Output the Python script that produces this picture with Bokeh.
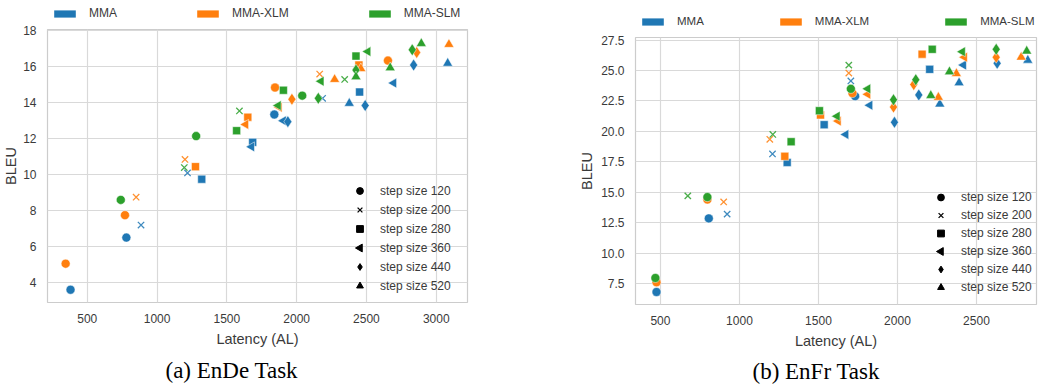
import math
from bokeh.plotting import figure
from bokeh.models import (Range1d, FixedTicker, Legend, LegendItem, Title,
                          PrintfTickFormatter)
from bokeh.layouts import row, column
from bokeh.embed import file_html
from bokeh.resources import INLINE

# ---------------- data ----------------
models = ["MMA", "MMA-XLM", "MMA-SLM"]
model_colors = ["#1f77b4", "#ff7f0e", "#2ca02c"]
step_sizes = [120, 200, 280, 360, 440, 520]
step_labels = ["step size 120", "step size 200", "step size 280",
               "step size 360", "step size 440", "step size 520"]

# EnDe task
ende_mma_latency = [380, 780, 1840, 885, 1218, 2186, 1320, 1685, 2451, 1677, 1905, 2695, 1937, 2491, 2838, 2377, 3082]
ende_mma_bleu = [3.6, 6.5, 13.35, 7.2, 10.1, 14.25, 9.75, 11.8, 14.6, 11.55, 13.0, 15.1, 12.95, 13.85, 16.1, 13.97, 16.2]
ende_mma_step = [120, 120, 120, 200, 200, 200, 280, 280, 280, 360, 360, 360, 440, 440, 440, 520, 520]
ende_xlm_latency = [345, 770, 1845, 2654, 850, 1200, 2165, 1275, 1650, 2446, 1635, 1875, 1966, 2860, 2272, 2460, 3091]
ende_xlm_bleu = [5.05, 7.75, 14.85, 16.35, 8.75, 10.85, 15.6, 10.45, 13.2, 16.1, 12.8, 13.75, 14.2, 16.8, 15.3, 15.9, 17.25]
ende_xlm_step = [120, 120, 120, 120, 200, 200, 200, 280, 280, 280, 360, 360, 440, 440, 520, 520, 520]
ende_slm_latency = [740, 1280, 2040, 1195, 1590, 2344, 1570, 1905, 2425, 1868, 2175, 2510, 2155, 2425, 2828, 2425, 2670, 2893]
ende_slm_bleu = [8.6, 12.15, 14.4, 10.4, 13.55, 15.3, 12.45, 14.7, 16.6, 13.85, 15.2, 16.85, 14.25, 15.82, 16.95, 15.45, 15.95, 17.3]
ende_slm_step = [120, 120, 120, 200, 200, 200, 280, 280, 280, 360, 360, 360, 440, 440, 440, 520, 520, 520]

# EnFr task
enfr_mma_latency = [475, 806, 1732, 922, 1209, 1705, 1302, 1536, 2204, 1673, 1825, 2418, 1981, 2135, 2631, 2268, 2390, 2825]
enfr_mma_bleu = [6.8, 12.85, 22.9, 13.2, 18.15, 24.15, 17.45, 20.55, 25.1, 19.75, 22.15, 25.45, 20.75, 23.0, 25.6, 22.25, 24.0, 25.85]
enfr_xlm_latency = [475, 797, 1715, 900, 1192, 1692, 1287, 1513, 2156, 1625, 1812, 2424, 1975, 2103, 2625, 2259, 2373, 2783]
enfr_xlm_bleu = [7.6, 14.4, 23.15, 14.2, 19.35, 24.8, 17.95, 21.35, 26.35, 20.85, 23.05, 26.1, 22.0, 23.85, 26.1, 22.8, 24.75, 26.1]
enfr_slm_latency = [468, 797, 1705, 673, 1211, 1692, 1327, 1506, 2220, 1618, 1812, 2411, 1975, 2116, 2625, 2211, 2329, 2818]
enfr_slm_bleu = [7.95, 14.6, 23.5, 14.7, 19.75, 25.45, 19.15, 21.7, 26.75, 21.25, 23.5, 26.55, 22.6, 24.25, 26.75, 22.95, 24.9, 26.6]
enfr_step = [120, 120, 120, 200, 200, 200, 280, 280, 280, 360, 360, 360, 440, 440, 440, 520, 520, 520]

ende_x_ticks = [500, 1000, 1500, 2000, 2500, 3000]
ende_y_ticks = [4, 6, 8, 10, 12, 14, 16, 18]
enfr_x_ticks = [500, 1000, 1500, 2000, 2500]
enfr_y_ticks = [7.5, 10.0, 12.5, 15.0, 17.5, 20.0, 22.5, 25.0, 27.5]

# ---------------- styling ----------------
FONT = "Liberation Sans"
TEXT = "#3a3a3a"
GRID = "#d9d9d9"
NAN = float("nan")
MARKERS = {120: ("circle", 0.0, 9), 200: ("x", 0.0, 9), 280: ("square", 0.0, 8),
           360: ("triangle", math.pi / 2, 10), 440: ("diamond", 0.0, 12),
           520: ("triangle", 0.0, 10)}
LEG_GW = 17


def make_legend_fig(g):
    """Strip above a panel that holds the model colour legend."""
    f = figure(output_backend="svg", toolbar_location=None, width=g["w"],
               height=g["strip_h"], x_axis_location=None, y_axis_location=None,
               min_border=0, min_border_left=0, min_border_right=0,
               min_border_top=0, min_border_bottom=0)
    f.outline_line_color = None
    f.grid.visible = False
    items = []
    for m, c in zip(models, model_colors):
        r = f.quad(left=[NAN], right=[NAN], top=[NAN], bottom=[NAN],
                   fill_color=c, line_color=None)
        items.append(LegendItem(label=m, renderers=[r]))
    leg = Legend(items=items, orientation="horizontal", location=(4, 0),
                 glyph_width=27, glyph_height=9, label_height=9, label_standoff=11,
                 spacing=g["leg_spacing"], padding=0, margin=0,
                 border_line_color=None, background_fill_alpha=0,
                 label_text_font=FONT, label_text_font_size=g["leg_font"],
                 label_text_color=TEXT)
    f.add_layout(leg)
    return f


def make_plot(series, xr, yr, xt, yt, yfmt, g, caption):
    p = figure(output_backend="svg", toolbar_location=None,
               x_range=Range1d(*xr), y_range=Range1d(*yr),
               width=g["w"], height=g["h"],
               min_border_left=g["bl"], min_border_right=g["br"],
               min_border_top=g["bt"], min_border_bottom=g["bb"])
    p.extra_x_ranges = {"px": Range1d(0, g["fw"])}
    p.extra_y_ranges = {"px": Range1d(0, g["fh"])}
    p.outline_line_color = "#cccccc"
    p.outline_line_width = 1.2
    p.xgrid.grid_line_color = GRID
    p.ygrid.grid_line_color = GRID
    p.xgrid.grid_line_width = 1.2
    p.ygrid.grid_line_width = 1.2
    p.xaxis.ticker = FixedTicker(ticks=xt)
    p.yaxis.ticker = FixedTicker(ticks=yt)
    if yfmt:
        p.yaxis.formatter = PrintfTickFormatter(format=yfmt)
    for ax in (p.xaxis[0], p.yaxis[0]):
        ax.axis_line_color = None
        ax.major_tick_line_color = None
        ax.minor_tick_line_color = None
        ax.major_label_text_font = FONT
        ax.major_label_text_font_size = "12px"
        ax.major_label_text_color = TEXT
        ax.axis_label_text_font = FONT
        ax.axis_label_text_font_size = "14.5px"
        ax.axis_label_text_font_style = "normal"
        ax.axis_label_text_color = TEXT
        ax.major_label_standoff = 5
    p.xaxis.axis_label = "Latency (AL)"
    p.yaxis.axis_label = "BLEU"
    p.xaxis.axis_label_standoff = 5
    p.yaxis.axis_label_standoff = g["ylab_standoff"]

    # data markers, drawn model by model
    for (lat, bleu, steps), color in zip(series, model_colors):
        for s in step_sizes:
            xs = [x for x, st in zip(lat, steps) if st == s]
            ys = [y for y, st in zip(bleu, steps) if st == s]
            mk, ang, sz = MARKERS[s]
            if mk == "x":
                p.scatter(xs, ys, marker="x", size=sz, line_color=color,
                          line_width=1.3, line_alpha=0.85)
            else:
                p.scatter(xs, ys, marker=mk, angle=ang, size=sz, fill_color=color,
                          line_color="white", line_width=0.5)

    # step size legend (black marker shapes)
    vx, vy = g["leg2"]
    rh = g["row"]
    sitems = []
    for k, (s, lab) in enumerate(zip(step_sizes, step_labels)):
        mk, ang, sz = MARKERS[s]
        if mk == "x":
            r = p.scatter([NAN], [NAN], marker="x", line_color="black", line_width=1.3)
        elif ang != 0:
            # a legend key is never rotated: draw the left-pointing key in pixel space
            r = p.scatter([NAN], [NAN], marker=mk, fill_alpha=0, line_alpha=0)
            key_size = 0.4 * min(LEG_GW, rh)
            p.scatter([vx + LEG_GW / 2], [vy + (len(step_sizes) - k - 0.5) * rh],
                      x_range_name="px", y_range_name="px", marker=mk, angle=ang,
                      size=key_size + 1, fill_color="black", line_color="black")
        else:
            r = p.scatter([NAN], [NAN], marker=mk, fill_color="black", line_color="black")
        sitems.append(LegendItem(label=lab, renderers=[r]))
    leg2 = Legend(items=sitems, location=(vx, vy), glyph_width=LEG_GW,
                  glyph_height=rh, label_height=rh, label_standoff=12,
                  spacing=0, padding=0, margin=0, border_line_color=None,
                  background_fill_alpha=0, label_text_font=FONT,
                  label_text_font_size="12px", label_text_color=TEXT)
    p.add_layout(leg2)

    cap = Title(text=caption, align="left", offset=g["cap_off"],
                text_font="Liberation Serif", text_font_size="23px",
                text_font_style="normal", text_color="black")
    if "standoff" in cap.properties():
        cap.standoff = g["cap_standoff"]
    p.add_layout(cap, "below")
    return p


geom_left = dict(w=520, strip_h=20, h=370, bl=47, br=53, bt=9, bb=88, fw=420, fh=273,
                 ylab_standoff=1, leg_spacing=77, leg_font="12px",
                 leg2=(304, 7), row=19, cap_off=118, cap_standoff=13)
geom_right = dict(w=523, strip_h=27, h=363, bl=115, br=7, bt=10, bb=86, fw=401, fh=267,
                  ylab_standoff=3, leg_spacing=73, leg_font="11.5px",
                  leg2=(297, 8), row=18, cap_off=117, cap_standoff=11)

left = make_plot(
    [(ende_mma_latency, ende_mma_bleu, ende_mma_step),
     (ende_xlm_latency, ende_xlm_bleu, ende_xlm_step),
     (ende_slm_latency, ende_slm_bleu, ende_slm_step)],
    (215, 3224), (2.89, 18.08), ende_x_ticks, ende_y_ticks, None,
    geom_left, "(a) EnDe Task")

right = make_plot(
    [(enfr_mma_latency, enfr_mma_bleu, enfr_step),
     (enfr_xlm_latency, enfr_xlm_bleu, enfr_step),
     (enfr_slm_latency, enfr_slm_bleu, enfr_step)],
    (342, 2880), (5.77, 27.72), enfr_x_ticks, enfr_y_ticks, "%.1f",
    geom_right, "(b) EnFr Task")

layout = row(column(make_legend_fig(geom_left), left),
             column(make_legend_fig(geom_right), right))
open("out.html", "w").write(file_html(layout, INLINE))
